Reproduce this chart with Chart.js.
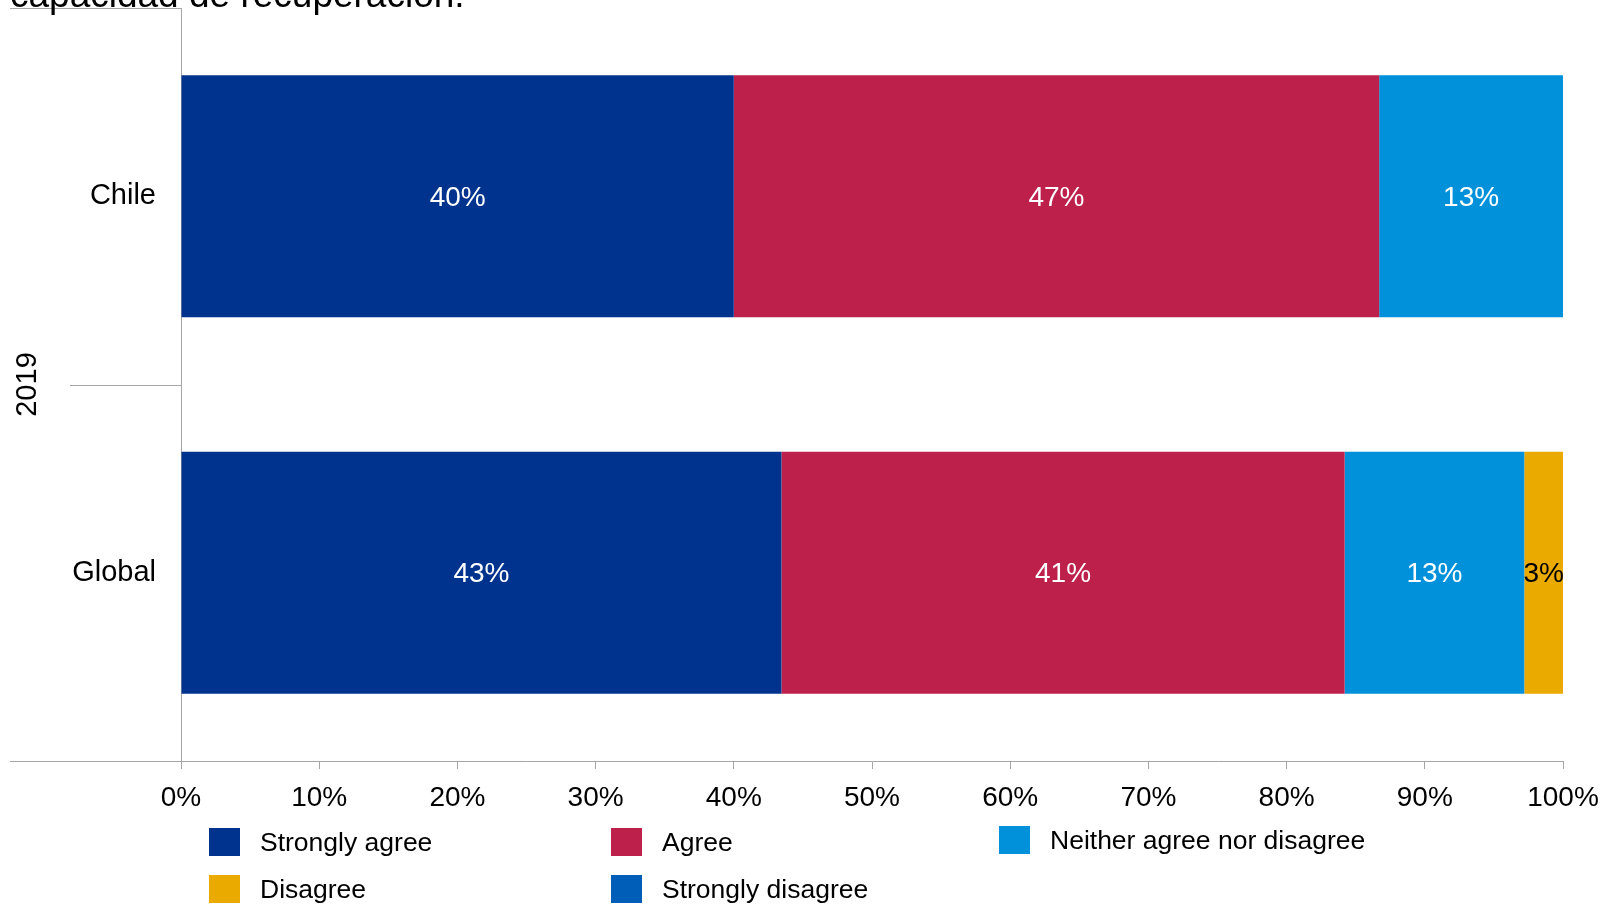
<!DOCTYPE html>
<html lang="es">
<head>
<meta charset="utf-8">
<title>Capacidad de recuperación</title>
<script src="https://cdn.jsdelivr.net/npm/chart.js@4.4.1/dist/chart.umd.min.js"></script>
<style>
    body { margin: 0; background: #fff; font-family: "Liberation Sans", Arial, sans-serif; }
    #contenedor { position: relative; width: 1613px; height: 905px; overflow: hidden; }
    #grafico { position: absolute; left: 0; top: 0; }
    .leyenda-item { position: absolute; height: 28px; display: flex; align-items: center; font-size: 26.5px; color: #000; white-space: nowrap; }
    .leyenda-caja { width: 31px; height: 28px; margin-right: 20px; flex: none; }
</style>
</head>
<body>
<div id="contenedor">
    <canvas id="grafico" width="1613" height="905"></canvas>
    <div id="leyenda"></div>
</div>
<script>
// Datos (porcentajes)
const titulo = 'capacidad de recuperación.';
const grupo = '2019';
const categorias = ['Chile', 'Global'];
const series = ['Strongly agree', 'Agree', 'Neither agree nor disagree', 'Disagree', 'Strongly disagree'];
const fuertementeDeAcuerdo = [40.0, 43.45];
const deAcuerdo = [46.7, 40.75];
const niAcuerdoNiDesacuerdo = [13.3, 13.0];
const enDesacuerdo = [0, 2.8];
const fuertementeEnDesacuerdo = [0, 0];
const ticksX = [0, 10, 20, 30, 40, 50, 60, 70, 80, 90, 100];

// Estilos
const colores = ['#00338D', '#BC204B', '#0091DA', '#EAAA00', '#005EB8'];
const coloresTexto = ['#fff', '#fff', '#fff', '#000', '#fff'];
const fuente = '"Liberation Sans", Arial, sans-serif';
const colorEje = '#a6a6a6';

const valores = [fuertementeDeAcuerdo, deAcuerdo, niAcuerdoNiDesacuerdo, enDesacuerdo, fuertementeEnDesacuerdo];

const datasets = series.map((nombre, i) => ({
    label: nombre,
    data: valores[i],
    backgroundColor: colores[i],
    borderWidth: 0,
    barPercentage: 0.643,
    categoryPercentage: 1
}));

// Etiquetas de valor dentro de cada segmento
const etiquetasValor = {
    id: 'etiquetasValor',
    afterDatasetsDraw(chart) {
        const ctx = chart.ctx;
        ctx.save();
        ctx.font = '28px ' + fuente;
        ctx.textAlign = 'center';
        ctx.textBaseline = 'middle';
        chart.data.datasets.forEach((ds, i) => {
            const meta = chart.getDatasetMeta(i);
            meta.data.forEach((bar, j) => {
                const v = ds.data[j];
                if (!v) return;
                const p = bar.getProps(['x', 'y', 'base'], true);
                ctx.fillStyle = coloresTexto[i];
                ctx.fillText(Math.round(v) + '%', (p.x + p.base) / 2, p.y + 2);
            });
        });
        ctx.restore();
    }
};

// Eje de categorías con dos niveles (estilo Excel) y título cortado arriba
const ejeMultinivel = {
    id: 'ejeMultinivel',
    afterDraw(chart) {
        const ctx = chart.ctx;
        const area = chart.chartArea;
        const y = chart.scales.y;
        ctx.save();
        ctx.strokeStyle = colorEje;
        ctx.lineWidth = 1;
        ctx.beginPath();
        ctx.moveTo(10, area.top + 0.5);
        ctx.lineTo(area.left, area.top + 0.5);
        ctx.moveTo(10, area.bottom + 0.5);
        ctx.lineTo(area.left, area.bottom + 0.5);
        const medio = Math.round(y.getPixelForValue(0.5)) + 0.5;
        ctx.moveTo(70, medio);
        ctx.lineTo(area.left, medio);
        ctx.stroke();

        ctx.fillStyle = '#000';
        ctx.font = '29px ' + fuente;
        ctx.textAlign = 'center';
        ctx.textBaseline = 'middle';
        ctx.translate(28, (area.top + area.bottom) / 2);
        ctx.rotate(-Math.PI / 2);
        ctx.fillText(grupo, 0, 0);
        ctx.restore();

        ctx.save();
        ctx.fillStyle = '#000';
        ctx.font = '37px ' + fuente;
        ctx.textAlign = 'left';
        ctx.textBaseline = 'alphabetic';
        ctx.fillText(titulo, 10, 7);
        ctx.restore();
    }
};

const ctx = document.getElementById('grafico').getContext('2d');
const grafico = new Chart(ctx, {
    type: 'bar',
    data: { labels: categorias, datasets: datasets },
    options: {
        indexAxis: 'y',
        responsive: false,
        animation: false,
        layout: { padding: { top: 8, right: 50, bottom: 0, left: 0 } },
        plugins: {
            legend: { display: false },
            tooltip: { enabled: false }
        },
        scales: {
            x: {
                stacked: true,
                min: 0,
                max: 100,
                afterFit: s => { s.height = 144; },
                afterBuildTicks: s => { s.ticks = ticksX.map(v => ({ value: v })); },
                ticks: {
                    font: { family: fuente, size: 28 },
                    color: '#000',
                    padding: 12,
                    maxRotation: 0,
                    callback: v => v + '%'
                },
                grid: { drawOnChartArea: false, drawTicks: true, tickLength: 8, color: colorEje },
                border: { display: true, color: colorEje }
            },
            y: {
                stacked: true,
                afterFit: s => {
                    s.width = 181;
                    s.paddingTop = 0;
                    s.paddingBottom = 0;
                },
                ticks: {
                    font: { family: fuente, size: 29 },
                    color: '#000',
                    padding: 25
                },
                grid: { display: false, drawTicks: false },
                border: { display: true, color: colorEje }
            }
        }
    },
    plugins: [etiquetasValor, ejeMultinivel]
});

// Leyenda en HTML, dos filas de tres columnas
function construirLeyenda() {
    const cont = document.getElementById('leyenda');
    const columnas = [209, 611, 999];
    const filas = [828, 875];
    grafico.data.datasets.forEach((ds, i) => {
        const item = document.createElement('div');
        item.className = 'leyenda-item';
        item.style.left = columnas[i % 3] + 'px';
        item.style.top = (filas[Math.floor(i / 3)] - (i === 2 ? 2 : 0)) + 'px';
        const caja = document.createElement('span');
        caja.className = 'leyenda-caja';
        caja.style.background = ds.backgroundColor;
        const texto = document.createElement('span');
        texto.textContent = ds.label;
        item.appendChild(caja);
        item.appendChild(texto);
        cont.appendChild(item);
    });
}

construirLeyenda();
</script>
</body>
</html>
